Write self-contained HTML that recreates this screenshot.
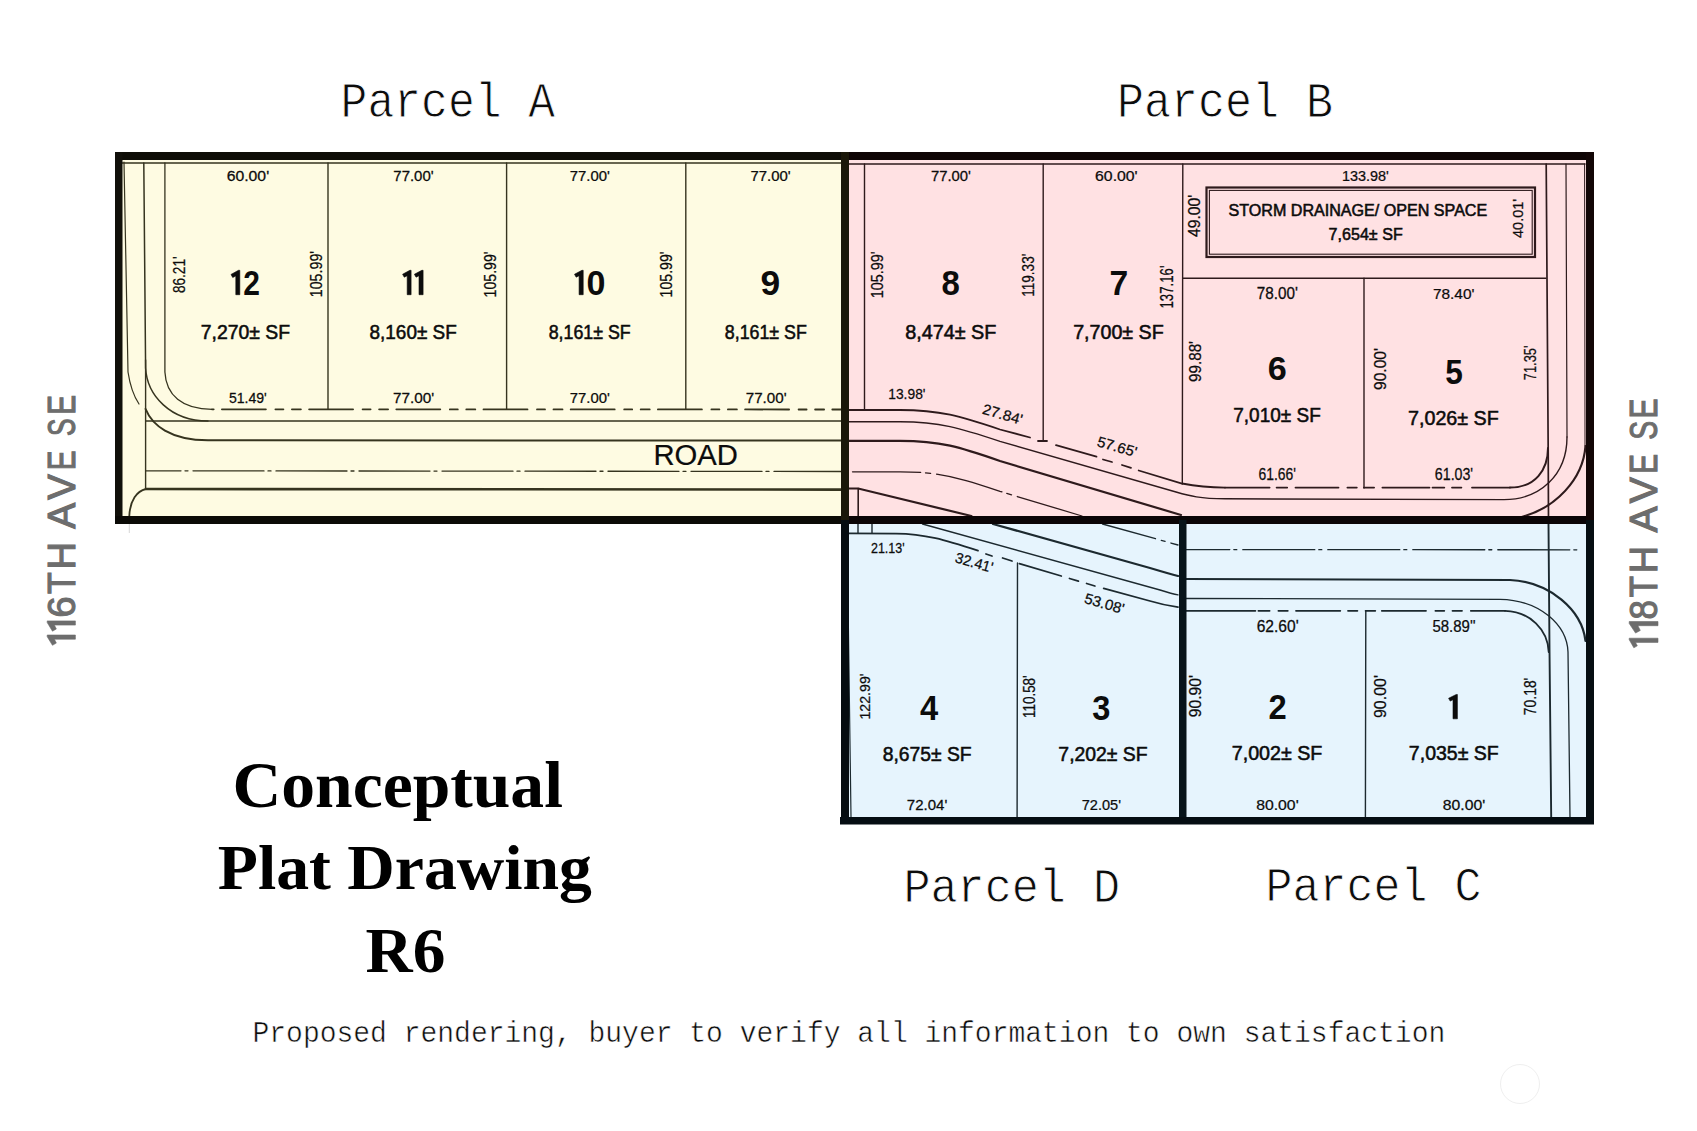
<!DOCTYPE html>
<html><head><meta charset="utf-8"><title>Conceptual Plat Drawing R6</title>
<style>html,body{margin:0;padding:0;background:#fff;overflow:hidden}svg{display:block}</style></head>
<body>
<svg width="1697" height="1131" viewBox="0 0 1697 1131">
<rect width="1697" height="1131" fill="#ffffff"/>
<!-- fills -->
<rect x="118" y="156" width="727" height="364" fill="#fefbe2"/>
<rect x="845" y="156" width="745" height="364" fill="#ffe1e3"/>
<rect x="845" y="520" width="745" height="300" fill="#e6f4fd"/>
<!-- Parcel A lines -->
<g fill="none" stroke="#36341f" stroke-width="1.4" stroke-linecap="round">
  <path d="M122,163 L841,163"/>
  <path d="M124,162 L128,372 Q131,392 139,404" stroke-width="1.2"/>
  <path d="M143.8,163 L145.6,368 C147,395 170,421 208,421 L841,421" stroke-width="1.5"/>
  <path d="M145.6,421 L208,421"/>
  <path d="M145.6,409 C152,425 170,440 208,440.3 L841,440.5" stroke-width="2"/>
  <path d="M145.6,360 L145.6,489"/>
  <path d="M164.9,163 L164.9,372 C166,395 182,409.3 212,409.3" stroke-width="1.3"/>
  <path d="M212,409.3 L841,409.5" stroke-width="1.8" stroke-dasharray="44 9.5 8 8.5 9 8.2" stroke-dashoffset="77.3"/>
  <path d="M328,163 L328,409"/>
  <path d="M506.6,163 L506.6,409"/>
  <path d="M685.8,163 L685.8,409"/>
  <path d="M146,470.8 L841,471.5" stroke-width="1.3" stroke-dasharray="71 4 3 5" stroke-dashoffset="36"/>
  <path d="M146,489 L841,489.6" stroke-width="2.6"/>
  <path d="M129.3,516 C130,500 137,491 146,489" stroke-width="1.8"/>
</g>
<!-- Parcel B lines -->
<g fill="none" stroke="#2e1a1c" stroke-width="1.4" stroke-linecap="round">
  <path d="M849,164 L1585,164"/>
  <path d="M864.5,164 L864.5,410"/>
  <path d="M1043.2,164 L1043.2,441"/>
  <path d="M1182.8,164 L1182.3,484"/>
  <path d="M1183,278.3 L1546,278.3"/>
  <path d="M1364,278.3 L1364,488"/>
  <path d="M1546.2,164 L1548.2,450 L1548.5,520" stroke-width="1.7"/>
  <path d="M1566,164 L1567,437" stroke-width="1.2"/>
  <path d="M1584.6,164 L1585,446" stroke-width="1.0"/>
  <!-- storm box -->
  <rect x="1206.5" y="187.5" width="328.5" height="69.5" stroke-width="2.2"/>
  <rect x="1209.4" y="190.4" width="322.8" height="63.8" stroke-width="1.1"/>
  <!-- road lines -->
  <path d="M849,410 L900,410 C940,410 960,416 1000,429.5 L1030,437.5" stroke-width="1.8"/>
  <path d="M1038,441 L1047,441 M1056,445.2 L1096.5,456.7 M1103,459.5 L1112,462 M1122,465 L1131,467.8 M1138.7,470.5 L1182,483.5 C1195,486 1205,487.5 1225,487.6" stroke-width="1.8"/>
  <path d="M1225,487.6 L1269.6,487.6 M1276.6,487.6 L1287.2,487.6 M1295.5,487.6 L1338.5,487.6 M1347.4,487.6 L1356.8,487.6 M1363.9,487.6 L1374.1,487.6 M1382.4,487.6 L1429.5,487.6 M1432.5,487.6 L1444.3,487.6 M1452,487.6 L1461.4,487.6 M1472,487.6 L1510,487.6" stroke-width="1.8"/>
  <path d="M1510,487.6 C1535,487.6 1548,470 1548,448" stroke-width="2"/>
  <path d="M849,421.8 L900,421.8 C940,421.8 960,428 1000,441.3 L1176,492 C1190,496 1200,498.7 1225,498.8 L1504,499.6 C1540,499.6 1567,475 1567,437" stroke-width="1.4"/>
  <path d="M849,440.8 L900,440.8 C940,440.8 960,447 1000,461 L1181,515" stroke-width="2.2"/>
  <path d="M1521.7,517 C1555,508 1583,480 1585.5,446" stroke-width="2.2"/>
  <path d="M852.5,471.8 L900,471.8 C940,471.8 960,478 1000,491.3 L1082,516" stroke-width="1.3" stroke-dasharray="68 5 5 6"/>
  <path d="M849,488.5 L858.2,488.5 L971.4,516" stroke-width="2.2"/>
  <path d="M858.2,488.5 L858.2,516" stroke-width="1.6"/>
</g>
<!-- Parcel D/C lines -->
<g fill="none" stroke="#1c292f" stroke-width="1.4" stroke-linecap="round">
  <path d="M847,524 L851,817" stroke-width="1.2"/>
  <path d="M858,524 L858,533.4 M872,524 L872,533.4"/>
  <path d="M849,533.4 L896,533.6 C925,533.8 945,540 978,550.7" stroke-width="1.8"/>
  <path d="M986,554 L992,556 M1002.6,558 L1012,561" stroke-width="1.8"/>
  <path d="M1019.4,563.6 L1061.3,576 M1069.5,578.5 L1078.4,581.2 M1086.6,583.5 L1094.9,586 M1103.7,588.4 L1150,601 C1160,604 1170,606 1178,607.2" stroke-width="1.8"/>
  <path d="M1017.5,563 L1017.1,817"/>
  <path d="M922.5,524 L1160,590 C1168,592.5 1173,594 1178,594.9"/>
  <path d="M993,524 L1150,568 C1160,571 1170,574 1178,576" stroke-width="2.2"/>
  <path d="M1102.5,524 L1178,545" stroke-width="1.3" stroke-dasharray="55 6 4 6"/>
  <!-- C -->
  <path d="M1186,549.6 L1578,549.8" stroke-width="1.3" stroke-dasharray="72 4 3 6" stroke-dashoffset="28.2"/>
  <path d="M1186,579 L1510,580 C1550,582 1582,610 1585.5,641" stroke-width="2.2"/>
  <path d="M1186,598.5 L1500,599.3 C1540,600 1567,625 1568,652 L1570,817" stroke-width="1.3"/>
  <path d="M1186,610.8 L1255.4,610.8 M1258.4,610.8 L1269.6,610.8 M1278.4,610.8 L1287.8,610.8 M1296,610.8 L1340.3,610.8 M1348,610.8 L1357.4,610.8 M1365.6,610.8 L1375.3,610.8 M1381.8,610.8 L1426,610.8 M1435.4,610.8 L1444.3,610.8 M1452.5,610.8 L1462,610.8 M1470.8,610.8 L1505,610.8" stroke-width="1.8"/>
  <path d="M1505,610.8 C1530,611.5 1548,630 1548.7,652" stroke-width="1.8"/>
  <path d="M1365.8,611 L1365.4,817"/>
  <path d="M1548.5,524 L1549.5,650 L1551.2,817" stroke-width="1.9"/>
</g>
<!-- thick borders -->
<g>
  <rect x="115" y="152" width="730" height="8" fill="#0e0d07"/>
  <rect x="845" y="152" width="749" height="8" fill="#0e0505"/>
  <rect x="115" y="152" width="7.5" height="372" fill="#11100a"/>
  <rect x="115" y="516" width="730" height="8" fill="#0b0a06"/>
  <rect x="845" y="516" width="749" height="8" fill="#0a0406"/>
  <rect x="1586" y="152" width="8" height="368" fill="#120606"/>
  <rect x="1586" y="520" width="8" height="304" fill="#060e12"/>
  <rect x="841" y="152" width="8" height="368" fill="#1a1709"/>
  <rect x="841" y="520" width="8" height="304" fill="#050c10"/>
  <rect x="1179" y="520" width="7.5" height="304" fill="#08141a"/>
  <rect x="840" y="817" width="754" height="7.5" fill="#050d12"/>
</g>
<path d="M129.3,524 L129.3,533" stroke="#d8d8d8" stroke-width="1"/>
<circle cx="1520" cy="1084" r="19.5" fill="none" stroke="#efefef" stroke-width="1"/>

<text transform="translate(340.61,116.60) scale(0.9057,1)" font-size="49.35" style="font-family:'Liberation Mono', monospace;font-weight:normal;fill:#0c0c0c;stroke:#fff;stroke-width:0.9">Parcel A</text>
<text transform="translate(1116.98,116.60) scale(0.9117,1)" font-size="49.35" style="font-family:'Liberation Mono', monospace;font-weight:normal;fill:#0c0c0c;stroke:#fff;stroke-width:0.9">Parcel B</text>
<text transform="translate(903.47,902.10) scale(0.9223,1)" font-size="48.92" style="font-family:'Liberation Mono', monospace;font-weight:normal;fill:#0c0c0c;stroke:#fff;stroke-width:0.9">Parcel D</text>
<text transform="translate(1265.59,901.20) scale(0.9246,1)" font-size="48.64" style="font-family:'Liberation Mono', monospace;font-weight:normal;fill:#0c0c0c;stroke:#fff;stroke-width:0.9">Parcel C</text>
<text transform="translate(252.51,1042.00) scale(0.9654,1)" font-size="29.01" style="font-family:'Liberation Mono', monospace;font-weight:normal;fill:#0c0c0c;stroke:#fff;stroke-width:0.5">Proposed rendering, buyer to verify all information to own satisfaction</text>
<text transform="translate(232.43,807.30) scale(1.0259,1)" font-size="65.91" style="font-family:'Liberation Serif', serif;font-weight:bold;fill:#000">Conceptual</text>
<text transform="translate(217.77,889.40) scale(1.0437,1)" font-size="62.97" style="font-family:'Liberation Serif', serif;font-weight:bold;fill:#000">Plat Drawing</text>
<text transform="translate(365.48,972.10) scale(1.0453,1)" font-size="62.49" style="font-family:'Liberation Serif', serif;font-weight:bold;fill:#000">R6</text>
<text transform="translate(653.42,465.20) scale(1.0130,1)" font-size="28.87" style="font-family:'Liberation Sans', sans-serif;font-weight:normal;fill:#0c0c0c;stroke:#0c0c0c;stroke-width:0.2">ROAD</text>
<text transform="translate(74.85,617.66) rotate(-90) scale(1.0018,1)" font-size="38.54" style="font-family:'Liberation Sans', sans-serif;font-weight:normal;fill:#6d6d6d;stroke:#6d6d6d;stroke-width:1.1">6</text>
<text transform="translate(74.85,594.01) rotate(-90) scale(0.9290,1)" font-size="38.54" style="font-family:'Liberation Sans', sans-serif;font-weight:normal;fill:#6d6d6d;stroke:#6d6d6d;stroke-width:1.1">T</text>
<text transform="translate(74.85,569.52) rotate(-90) scale(0.9871,1)" font-size="38.54" style="font-family:'Liberation Sans', sans-serif;font-weight:normal;fill:#6d6d6d;stroke:#6d6d6d;stroke-width:1.1">H</text>
<text transform="translate(74.85,528.65) rotate(-90) scale(1.0079,1)" font-size="38.54" style="font-family:'Liberation Sans', sans-serif;font-weight:normal;fill:#6d6d6d;stroke:#6d6d6d;stroke-width:1.1">A</text>
<text transform="translate(74.85,499.65) rotate(-90) scale(0.9963,1)" font-size="38.54" style="font-family:'Liberation Sans', sans-serif;font-weight:normal;fill:#6d6d6d;stroke:#6d6d6d;stroke-width:1.1">V</text>
<text transform="translate(74.85,470.26) rotate(-90) scale(0.7686,1)" font-size="38.54" style="font-family:'Liberation Sans', sans-serif;font-weight:normal;fill:#6d6d6d;stroke:#6d6d6d;stroke-width:1.1">E</text>
<text transform="translate(74.85,435.97) rotate(-90) scale(0.6817,1)" font-size="38.54" style="font-family:'Liberation Sans', sans-serif;font-weight:normal;fill:#6d6d6d;stroke:#6d6d6d;stroke-width:1.1">S</text>
<text transform="translate(74.85,414.76) rotate(-90) scale(0.7686,1)" font-size="38.54" style="font-family:'Liberation Sans', sans-serif;font-weight:normal;fill:#6d6d6d;stroke:#6d6d6d;stroke-width:1.1">E</text>
<text transform="translate(1657.45,619.54) rotate(-90) scale(0.8856,1)" font-size="39.40" style="font-family:'Liberation Sans', sans-serif;font-weight:normal;fill:#6d6d6d;stroke:#6d6d6d;stroke-width:1.1">8</text>
<text transform="translate(1657.45,597.19) rotate(-90) scale(0.8825,1)" font-size="39.40" style="font-family:'Liberation Sans', sans-serif;font-weight:normal;fill:#6d6d6d;stroke:#6d6d6d;stroke-width:1.1">T</text>
<text transform="translate(1657.45,573.31) rotate(-90) scale(0.9612,1)" font-size="39.40" style="font-family:'Liberation Sans', sans-serif;font-weight:normal;fill:#6d6d6d;stroke:#6d6d6d;stroke-width:1.1">H</text>
<text transform="translate(1657.45,532.55) rotate(-90) scale(1.0012,1)" font-size="39.40" style="font-family:'Liberation Sans', sans-serif;font-weight:normal;fill:#6d6d6d;stroke:#6d6d6d;stroke-width:1.1">A</text>
<text transform="translate(1657.45,503.15) rotate(-90) scale(0.9936,1)" font-size="39.40" style="font-family:'Liberation Sans', sans-serif;font-weight:normal;fill:#6d6d6d;stroke:#6d6d6d;stroke-width:1.1">V</text>
<text transform="translate(1657.45,473.86) rotate(-90) scale(0.7519,1)" font-size="39.40" style="font-family:'Liberation Sans', sans-serif;font-weight:normal;fill:#6d6d6d;stroke:#6d6d6d;stroke-width:1.1">E</text>
<text transform="translate(1657.45,439.63) rotate(-90) scale(0.7182,1)" font-size="39.40" style="font-family:'Liberation Sans', sans-serif;font-weight:normal;fill:#6d6d6d;stroke:#6d6d6d;stroke-width:1.1">S</text>
<text transform="translate(1657.45,418.39) rotate(-90) scale(0.7612,1)" font-size="39.40" style="font-family:'Liberation Sans', sans-serif;font-weight:normal;fill:#6d6d6d;stroke:#6d6d6d;stroke-width:1.1">E</text>
<text transform="translate(226.69,180.68) scale(1.1259,1)" font-size="14.01" style="font-family:'Liberation Sans', sans-serif;font-weight:normal;fill:#0c0c0c;stroke:#0c0c0c;stroke-width:0.25">60.00'</text>
<text transform="translate(393.32,180.68) scale(1.0682,1)" font-size="14.01" style="font-family:'Liberation Sans', sans-serif;font-weight:normal;fill:#0c0c0c;stroke:#0c0c0c;stroke-width:0.25">77.00'</text>
<text transform="translate(569.73,180.68) scale(1.0627,1)" font-size="14.01" style="font-family:'Liberation Sans', sans-serif;font-weight:normal;fill:#0c0c0c;stroke:#0c0c0c;stroke-width:0.25">77.00'</text>
<text transform="translate(750.43,180.68) scale(1.0654,1)" font-size="14.01" style="font-family:'Liberation Sans', sans-serif;font-weight:normal;fill:#0c0c0c;stroke:#0c0c0c;stroke-width:0.25">77.00'</text>
<text transform="translate(930.93,180.68) scale(1.0599,1)" font-size="14.01" style="font-family:'Liberation Sans', sans-serif;font-weight:normal;fill:#0c0c0c;stroke:#0c0c0c;stroke-width:0.25">77.00'</text>
<text transform="translate(1095.08,180.68) scale(1.1287,1)" font-size="14.01" style="font-family:'Liberation Sans', sans-serif;font-weight:normal;fill:#0c0c0c;stroke:#0c0c0c;stroke-width:0.25">60.00'</text>
<text transform="translate(1342.03,181.18) scale(0.9685,1)" font-size="14.86" style="font-family:'Liberation Sans', sans-serif;font-weight:normal;fill:#0c0c0c;stroke:#0c0c0c;stroke-width:0.25">133.98'</text>
<text transform="translate(243.16,294.70) scale(0.8645,1)" font-size="34.70" style="font-family:'Liberation Sans', sans-serif;font-weight:bold;fill:#0c0c0c">2</text>
<text transform="translate(586.54,294.90) scale(0.9619,1)" font-size="35.41" style="font-family:'Liberation Sans', sans-serif;font-weight:bold;fill:#0c0c0c">0</text>
<text transform="translate(760.59,294.90) scale(1.0328,1)" font-size="34.28" style="font-family:'Liberation Sans', sans-serif;font-weight:bold;fill:#0c0c0c">9</text>
<text transform="translate(941.47,294.90) scale(0.9628,1)" font-size="34.28" style="font-family:'Liberation Sans', sans-serif;font-weight:bold;fill:#0c0c0c">8</text>
<text transform="translate(1109.55,294.90) scale(0.9818,1)" font-size="34.28" style="font-family:'Liberation Sans', sans-serif;font-weight:bold;fill:#0c0c0c">7</text>
<text transform="translate(1267.63,379.80) scale(1.0321,1)" font-size="33.14" style="font-family:'Liberation Sans', sans-serif;font-weight:bold;fill:#0c0c0c">6</text>
<text transform="translate(1445.21,383.70) scale(0.8999,1)" font-size="35.13" style="font-family:'Liberation Sans', sans-serif;font-weight:bold;fill:#0c0c0c">5</text>
<text transform="translate(920.00,719.50) scale(0.9350,1)" font-size="34.99" style="font-family:'Liberation Sans', sans-serif;font-weight:bold;fill:#0c0c0c">4</text>
<text transform="translate(1092.29,719.50) scale(0.9313,1)" font-size="34.99" style="font-family:'Liberation Sans', sans-serif;font-weight:bold;fill:#0c0c0c">3</text>
<text transform="translate(1268.38,719.30) scale(0.9337,1)" font-size="35.13" style="font-family:'Liberation Sans', sans-serif;font-weight:bold;fill:#0c0c0c">2</text>
<text transform="translate(200.77,339.03) scale(0.9911,1)" font-size="19.56" style="font-family:'Liberation Sans', sans-serif;font-weight:normal;fill:#0c0c0c;stroke:#0c0c0c;stroke-width:0.55">7,270± SF</text>
<text transform="translate(369.58,339.03) scale(0.9675,1)" font-size="19.56" style="font-family:'Liberation Sans', sans-serif;font-weight:normal;fill:#0c0c0c;stroke:#0c0c0c;stroke-width:0.55">8,160± SF</text>
<text transform="translate(548.72,339.03) scale(0.9101,1)" font-size="19.56" style="font-family:'Liberation Sans', sans-serif;font-weight:normal;fill:#0c0c0c;stroke:#0c0c0c;stroke-width:0.55">8,161± SF</text>
<text transform="translate(724.82,339.03) scale(0.9101,1)" font-size="19.56" style="font-family:'Liberation Sans', sans-serif;font-weight:normal;fill:#0c0c0c;stroke:#0c0c0c;stroke-width:0.55">8,161± SF</text>
<text transform="translate(905.16,339.03) scale(1.0125,1)" font-size="19.56" style="font-family:'Liberation Sans', sans-serif;font-weight:normal;fill:#0c0c0c;stroke:#0c0c0c;stroke-width:0.55">8,474± SF</text>
<text transform="translate(1073.15,339.03) scale(1.0058,1)" font-size="19.56" style="font-family:'Liberation Sans', sans-serif;font-weight:normal;fill:#0c0c0c;stroke:#0c0c0c;stroke-width:0.55">7,700± SF</text>
<text transform="translate(1233.28,422.43) scale(0.9445,1)" font-size="20.12" style="font-family:'Liberation Sans', sans-serif;font-weight:normal;fill:#0c0c0c;stroke:#0c0c0c;stroke-width:0.55">7,010± SF</text>
<text transform="translate(1408.05,425.03) scale(0.9785,1)" font-size="20.12" style="font-family:'Liberation Sans', sans-serif;font-weight:normal;fill:#0c0c0c;stroke:#0c0c0c;stroke-width:0.55">7,026± SF</text>
<text transform="translate(882.67,760.62) scale(0.9806,1)" font-size="19.70" style="font-family:'Liberation Sans', sans-serif;font-weight:normal;fill:#0c0c0c;stroke:#0c0c0c;stroke-width:0.55">8,675± SF</text>
<text transform="translate(1058.37,760.62) scale(0.9840,1)" font-size="19.70" style="font-family:'Liberation Sans', sans-serif;font-weight:normal;fill:#0c0c0c;stroke:#0c0c0c;stroke-width:0.55">7,202± SF</text>
<text transform="translate(1231.75,760.43) scale(1.0143,1)" font-size="19.41" style="font-family:'Liberation Sans', sans-serif;font-weight:normal;fill:#0c0c0c;stroke:#0c0c0c;stroke-width:0.55">7,002± SF</text>
<text transform="translate(1408.86,760.43) scale(1.0052,1)" font-size="19.41" style="font-family:'Liberation Sans', sans-serif;font-weight:normal;fill:#0c0c0c;stroke:#0c0c0c;stroke-width:0.55">7,035± SF</text>
<text transform="translate(1328.62,240.32) scale(0.9548,1)" font-size="16.85" style="font-family:'Liberation Sans', sans-serif;font-weight:normal;fill:#0c0c0c;stroke:#0c0c0c;stroke-width:0.55">7,654± SF</text>
<text transform="translate(1228.47,216.22) scale(1.0160,1)" font-size="15.86" style="font-family:'Liberation Sans', sans-serif;font-weight:normal;fill:#0c0c0c;stroke:#0c0c0c;stroke-width:0.55">STORM DRAINAGE/ OPEN SPACE</text>
<text transform="translate(228.89,402.77) scale(0.9559,1)" font-size="14.72" style="font-family:'Liberation Sans', sans-serif;font-weight:normal;fill:#0c0c0c;stroke:#0c0c0c;stroke-width:0.25">51.49'</text>
<text transform="translate(392.91,402.77) scale(1.0401,1)" font-size="14.72" style="font-family:'Liberation Sans', sans-serif;font-weight:normal;fill:#0c0c0c;stroke:#0c0c0c;stroke-width:0.25">77.00'</text>
<text transform="translate(569.73,402.77) scale(1.0114,1)" font-size="14.72" style="font-family:'Liberation Sans', sans-serif;font-weight:normal;fill:#0c0c0c;stroke:#0c0c0c;stroke-width:0.25">77.00'</text>
<text transform="translate(745.71,402.77) scale(1.0323,1)" font-size="14.72" style="font-family:'Liberation Sans', sans-serif;font-weight:normal;fill:#0c0c0c;stroke:#0c0c0c;stroke-width:0.25">77.00'</text>
<text transform="translate(888.26,399.27) scale(0.9385,1)" font-size="14.72" style="font-family:'Liberation Sans', sans-serif;font-weight:normal;fill:#0c0c0c;stroke:#0c0c0c;stroke-width:0.25">13.98'</text>
<text transform="translate(1256.71,299.38) scale(0.9807,1)" font-size="15.57" style="font-family:'Liberation Sans', sans-serif;font-weight:normal;fill:#0c0c0c;stroke:#0c0c0c;stroke-width:0.25">78.00'</text>
<text transform="translate(1433.00,299.38) scale(0.9881,1)" font-size="15.57" style="font-family:'Liberation Sans', sans-serif;font-weight:normal;fill:#0c0c0c;stroke:#0c0c0c;stroke-width:0.25">78.40'</text>
<text transform="translate(1258.47,480.48) scale(0.8551,1)" font-size="16.28" style="font-family:'Liberation Sans', sans-serif;font-weight:normal;fill:#0c0c0c;stroke:#0c0c0c;stroke-width:0.25">61.66'</text>
<text transform="translate(1434.86,480.48) scale(0.8716,1)" font-size="16.28" style="font-family:'Liberation Sans', sans-serif;font-weight:normal;fill:#0c0c0c;stroke:#0c0c0c;stroke-width:0.25">61.03'</text>
<text transform="translate(870.94,553.17) scale(0.8491,1)" font-size="14.72" style="font-family:'Liberation Sans', sans-serif;font-weight:normal;fill:#0c0c0c;stroke:#0c0c0c;stroke-width:0.25">21.13'</text>
<text transform="translate(1256.69,631.77) scale(1.0005,1)" font-size="15.57" style="font-family:'Liberation Sans', sans-serif;font-weight:normal;fill:#0c0c0c;stroke:#0c0c0c;stroke-width:0.25">62.60'</text>
<text transform="translate(1432.46,631.77) scale(0.9611,1)" font-size="15.57" style="font-family:'Liberation Sans', sans-serif;font-weight:normal;fill:#0c0c0c;stroke:#0c0c0c;stroke-width:0.25">58.89''</text>
<text transform="translate(906.82,810.27) scale(0.9930,1)" font-size="15.15" style="font-family:'Liberation Sans', sans-serif;font-weight:normal;fill:#0c0c0c;stroke:#0c0c0c;stroke-width:0.25">72.04'</text>
<text transform="translate(1081.74,810.27) scale(0.9625,1)" font-size="15.15" style="font-family:'Liberation Sans', sans-serif;font-weight:normal;fill:#0c0c0c;stroke:#0c0c0c;stroke-width:0.25">72.05'</text>
<text transform="translate(1256.13,810.38) scale(1.0427,1)" font-size="15.15" style="font-family:'Liberation Sans', sans-serif;font-weight:normal;fill:#0c0c0c;stroke:#0c0c0c;stroke-width:0.25">80.00'</text>
<text transform="translate(1442.83,810.38) scale(1.0402,1)" font-size="15.15" style="font-family:'Liberation Sans', sans-serif;font-weight:normal;fill:#0c0c0c;stroke:#0c0c0c;stroke-width:0.25">80.00'</text>
<text transform="translate(184.78,293.10) rotate(-90) scale(0.8215,1)" font-size="16.57" style="font-family:'Liberation Sans', sans-serif;font-weight:normal;fill:#0c0c0c;stroke:#0c0c0c;stroke-width:0.25">86.21'</text>
<text transform="translate(321.88,297.27) rotate(-90) scale(0.8917,1)" font-size="16.00" style="font-family:'Liberation Sans', sans-serif;font-weight:normal;fill:#0c0c0c;stroke:#0c0c0c;stroke-width:0.25">105.99'</text>
<text transform="translate(495.88,297.46) rotate(-90) scale(0.8627,1)" font-size="16.43" style="font-family:'Liberation Sans', sans-serif;font-weight:normal;fill:#0c0c0c;stroke:#0c0c0c;stroke-width:0.25">105.99'</text>
<text transform="translate(671.98,297.46) rotate(-90) scale(0.8627,1)" font-size="16.43" style="font-family:'Liberation Sans', sans-serif;font-weight:normal;fill:#0c0c0c;stroke:#0c0c0c;stroke-width:0.25">105.99'</text>
<text transform="translate(882.77,298.28) rotate(-90) scale(0.8418,1)" font-size="17.14" style="font-family:'Liberation Sans', sans-serif;font-weight:normal;fill:#0c0c0c;stroke:#0c0c0c;stroke-width:0.25">105.99'</text>
<text transform="translate(1033.67,296.72) rotate(-90) scale(0.7898,1)" font-size="17.14" style="font-family:'Liberation Sans', sans-serif;font-weight:normal;fill:#0c0c0c;stroke:#0c0c0c;stroke-width:0.25">119.33'</text>
<text transform="translate(1173.38,308.50) rotate(-90) scale(0.7585,1)" font-size="17.42" style="font-family:'Liberation Sans', sans-serif;font-weight:normal;fill:#0c0c0c;stroke:#0c0c0c;stroke-width:0.25">137.16'</text>
<text transform="translate(1200.47,237.12) rotate(-90) scale(0.9581,1)" font-size="16.43" style="font-family:'Liberation Sans', sans-serif;font-weight:normal;fill:#0c0c0c;stroke:#0c0c0c;stroke-width:0.25">49.00'</text>
<text transform="translate(1522.78,238.00) rotate(-90) scale(0.9409,1)" font-size="15.43" style="font-family:'Liberation Sans', sans-serif;font-weight:normal;fill:#0c0c0c;stroke:#0c0c0c;stroke-width:0.25">40.01'</text>
<text transform="translate(1200.58,381.99) rotate(-90) scale(0.9355,1)" font-size="16.28" style="font-family:'Liberation Sans', sans-serif;font-weight:normal;fill:#0c0c0c;stroke:#0c0c0c;stroke-width:0.25">99.88'</text>
<text transform="translate(1385.97,390.01) rotate(-90) scale(0.9167,1)" font-size="17.00" style="font-family:'Liberation Sans', sans-serif;font-weight:normal;fill:#0c0c0c;stroke:#0c0c0c;stroke-width:0.25">90.00'</text>
<text transform="translate(1535.58,380.28) rotate(-90) scale(0.7581,1)" font-size="17.00" style="font-family:'Liberation Sans', sans-serif;font-weight:normal;fill:#0c0c0c;stroke:#0c0c0c;stroke-width:0.25">71.35'</text>
<text transform="translate(870.17,719.56) rotate(-90) scale(0.9356,1)" font-size="15.15" style="font-family:'Liberation Sans', sans-serif;font-weight:normal;fill:#0c0c0c;stroke:#0c0c0c;stroke-width:0.25">122.99'</text>
<text transform="translate(1035.28,718.01) rotate(-90) scale(0.8473,1)" font-size="15.86" style="font-family:'Liberation Sans', sans-serif;font-weight:normal;fill:#0c0c0c;stroke:#0c0c0c;stroke-width:0.25">110.58'</text>
<text transform="translate(1201.17,717.31) rotate(-90) scale(0.9159,1)" font-size="17.14" style="font-family:'Liberation Sans', sans-serif;font-weight:normal;fill:#0c0c0c;stroke:#0c0c0c;stroke-width:0.25">90.90'</text>
<text transform="translate(1385.97,718.02) rotate(-90) scale(0.9394,1)" font-size="17.00" style="font-family:'Liberation Sans', sans-serif;font-weight:normal;fill:#0c0c0c;stroke:#0c0c0c;stroke-width:0.25">90.00'</text>
<text transform="translate(1535.58,715.13) rotate(-90) scale(0.8170,1)" font-size="17.00" style="font-family:'Liberation Sans', sans-serif;font-weight:normal;fill:#0c0c0c;stroke:#0c0c0c;stroke-width:0.25">70.18'</text>
<text transform="translate(1002.60,414.20) rotate(16) translate(-20.46,5.15) scale(1.0386,1)" font-size="14.65" style="font-family:'Liberation Sans', sans-serif;font-weight:normal;fill:#0c0c0c;stroke:#0c0c0c;stroke-width:0.25">27.84'</text>
<text transform="translate(1117.00,446.60) rotate(16) translate(-20.22,5.15) scale(1.0324,1)" font-size="14.65" style="font-family:'Liberation Sans', sans-serif;font-weight:normal;fill:#0c0c0c;stroke:#0c0c0c;stroke-width:0.25">57.65'</text>
<text transform="translate(974.10,562.40) rotate(16) translate(-19.20,5.15) scale(0.9801,1)" font-size="14.65" style="font-family:'Liberation Sans', sans-serif;font-weight:normal;fill:#0c0c0c;stroke:#0c0c0c;stroke-width:0.25">32.41'</text>
<text transform="translate(1104.30,603.40) rotate(16) translate(-20.22,5.15) scale(1.0324,1)" font-size="14.65" style="font-family:'Liberation Sans', sans-serif;font-weight:normal;fill:#0c0c0c;stroke:#0c0c0c;stroke-width:0.25">53.08'</text>
<path d="M239.80,270.30 L239.80,294.70 L235.80,294.70 L235.80,275.96 L232.73,277.50 L231.00,274.43 L238.50,270.30 Z" fill="#0c0c0c" stroke="#0c0c0c" stroke-width="0.6" stroke-linejoin="round"/>
<path d="M411.10,270.30 L411.10,294.70 L407.20,294.70 L407.20,275.73 L404.26,277.20 L402.60,274.26 L409.86,270.30 Z" fill="#0c0c0c" stroke="#0c0c0c" stroke-width="0.6" stroke-linejoin="round"/>
<path d="M423.10,270.30 L423.10,294.70 L419.00,294.70 L419.00,275.73 L416.06,277.20 L414.40,274.26 L421.86,270.30 Z" fill="#0c0c0c" stroke="#0c0c0c" stroke-width="0.6" stroke-linejoin="round"/>
<path d="M583.20,270.30 L583.20,294.70 L579.10,294.70 L579.10,275.73 L576.16,277.20 L574.50,274.26 L581.96,270.30 Z" fill="#0c0c0c" stroke="#0c0c0c" stroke-width="0.6" stroke-linejoin="round"/>
<path d="M1457.40,694.50 L1457.40,718.80 L1453.00,718.80 L1453.00,699.69 L1450.18,701.10 L1448.60,698.28 L1456.21,694.50 Z" fill="#0c0c0c" stroke="#0c0c0c" stroke-width="0.6" stroke-linejoin="round"/>
<path d="M47.20,635.00 L75.40,635.00 L75.40,639.20 L54.40,639.20 L56.35,643.10 L52.45,645.30 L47.20,636.65 Z" fill="#6d6d6d" stroke="#6d6d6d" stroke-width="0.6" stroke-linejoin="round"/>
<path d="M47.20,620.90 L75.40,620.90 L75.40,625.10 L54.40,625.10 L56.35,629.00 L52.45,631.20 L47.20,622.55 Z" fill="#6d6d6d" stroke="#6d6d6d" stroke-width="0.6" stroke-linejoin="round"/>
<path d="M1629.20,638.20 L1658.00,638.20 L1658.00,642.40 L1635.57,642.40 L1637.30,645.86 L1633.84,647.80 L1629.20,639.66 Z" fill="#6d6d6d" stroke="#6d6d6d" stroke-width="0.6" stroke-linejoin="round"/>
<path d="M1629.20,621.50 L1658.00,621.50 L1658.00,625.70 L1637.93,625.70 L1640.30,630.44 L1635.56,633.10 L1629.20,623.50 Z" fill="#6d6d6d" stroke="#6d6d6d" stroke-width="0.6" stroke-linejoin="round"/>
</svg>
</body></html>
